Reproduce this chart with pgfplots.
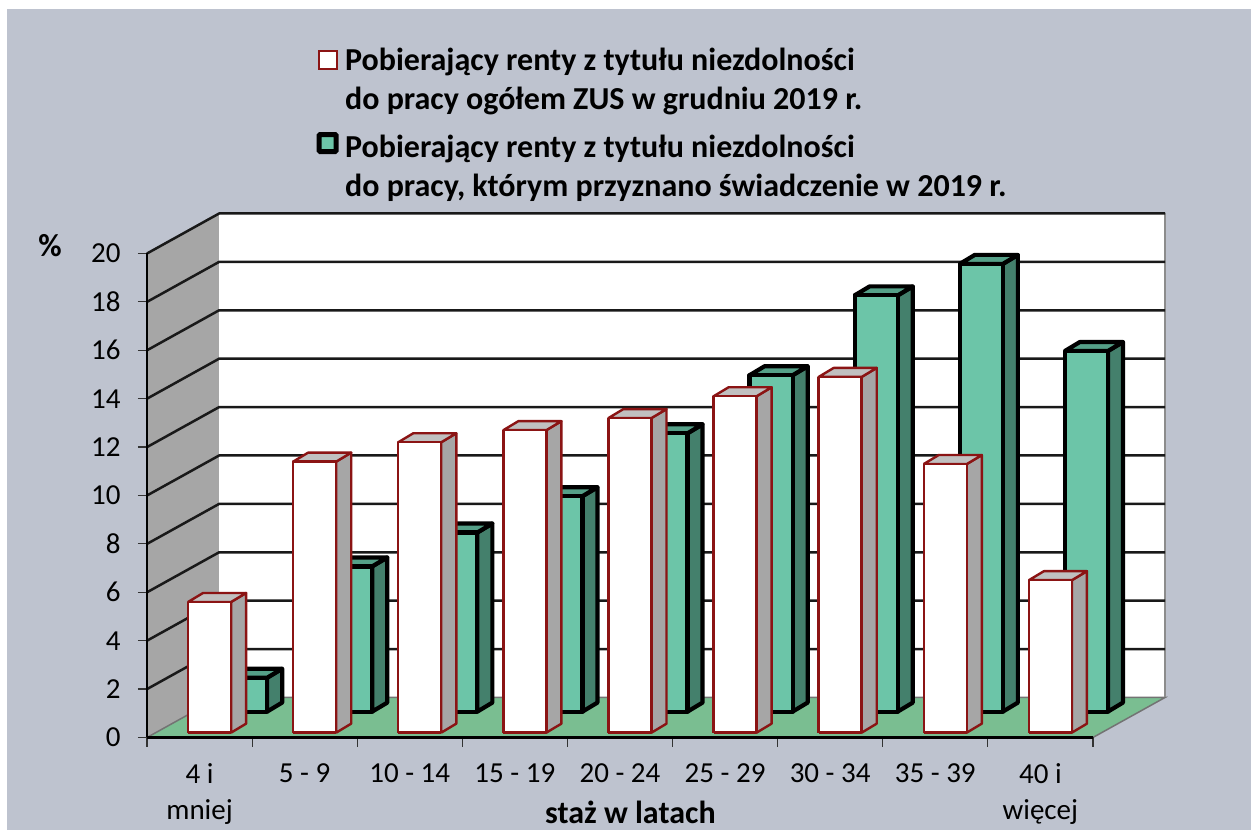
\documentclass[border=0pt]{standalone}
\usepackage{fontspec}
\setmainfont{Carlito}
\usepackage{pgfplots}
\pgfplotsset{compat=1.18}
\definecolor{bg}{HTML}{BEC3CF}
\definecolor{wallc}{HTML}{A6A6A6}
\definecolor{floorc}{HTML}{7ABE91}
\definecolor{gfront}{HTML}{6CC5A8}
\definecolor{gside}{HTML}{44806C}
\definecolor{gtop}{HTML}{55A088}
\definecolor{wtop}{HTML}{C0C0C0}
\definecolor{wside}{HTML}{A6A6A6}
\definecolor{redl}{HTML}{8B1414}
\newcommand{\solid}[8]{% xa, xb, y0, ytop, style, front, top, side
  \pgfmathsetmacro\xa{#1}\pgfmathsetmacro\xb{#2}\pgfmathsetmacro\ya{#3}\pgfmathsetmacro\yb{#4}%
  \pgfmathsetmacro\xc{\xb+0.143}\pgfmathsetmacro\xd{\xa+0.143}%
  \pgfmathsetmacro\yc{\ya+0.372}\pgfmathsetmacro\yd{\yb+0.372}%
  \addplot[forget plot,#5,fill=#8] coordinates {(\xb,\ya)(\xc,\yc)(\xc,\yd)(\xb,\yb)(\xb,\ya)};
  \addplot[forget plot,#5,fill=#7] coordinates {(\xa,\yb)(\xd,\yd)(\xc,\yd)(\xb,\yb)(\xa,\yb)};
  \addplot[forget plot,#5,fill=#6] coordinates {(\xa,\ya)(\xb,\ya)(\xb,\yb)(\xa,\yb)(\xa,\ya)};
}
\newcommand{\whitebar}[2]{\solid{#1+0.3905}{#1+0.80}{0.2}{#2+0.2}{draw=redl,line width=2.4pt,line join=round}{white}{wtop}{wside}}
\newcommand{\greenbar}[2]{\solid{#1+0.733}{#1+1.143}{1.07}{#2+1.07}{draw=black,line width=4.2pt,line join=round}{gfront}{gtop}{gside}}
\newcommand{\gridl}[1]{%
  \pgfmathsetmacro\yg{#1+1.653}%
  \addplot[forget plot,draw=black!90,line width=2.5pt] coordinates {(0,#1)(0.686,\yg)(9.686,\yg)};
}
\begin{document}
\begin{tikzpicture}[x=1pt,y=1pt]
\path[fill=white] (0,0) rectangle (1251,830);
\path[fill=bg] (7,0) rectangle (1251,821);
\begin{axis}[
  at={(147pt,92.5pt)},anchor=origin,
  x=105.1pt,y=24.2pt,
  xmin=0,xmax=9,ymin=0,ymax=20,
  clip=false,axis on top=true,
  axis x line*=bottom,axis y line*=left,
  axis line style={-,black,line width=2.5pt},
  tick align=outside,major tick length=9pt,
  tick style={black!80,line width=1.2pt},
  xtick={0,...,9},
  x tick label as interval=true,
  xticklabels={{4 i\\mniej},{5 - 9},{10 - 14},{15 - 19},{20 - 24},{25 - 29},{30 - 34},{35 - 39},{40 i\\więcej}},
  ytick={0,2,...,20},
  /pgf/number format/assume math mode=true,
  tick label style={font=\fontsize{29}{36}\selectfont},
  xticklabel style={align=center,anchor=north,yshift=-17pt,inner sep=0pt},
  yticklabel style={xshift=-14pt},
  xlabel={\textbf{staż w latach}},
  every axis x label/.style={at={(axis description cs:0.511,0)},anchor=center,yshift=-75pt,inner sep=0pt,font=\fontsize{32}{32}\selectfont},
  ylabel={\textbf{\%}},
  every axis y label/.style={at={(axis description cs:0,1)},anchor=center,xshift=-97pt,yshift=8pt,font=\fontsize{32}{36}\selectfont},
  legend style={at={(axis cs:1.612,20)},anchor=south west,yshift=53pt,draw=none,fill=none,
    font=\fontsize{32}{39.5}\selectfont\bfseries,row sep=19pt,
    cells={anchor=west,align=left},inner sep=0pt},
]
% side wall, back wall, floor
\addplot[forget plot,draw=none,fill=wallc] coordinates {(0,0)(0.686,1.653)(0.686,21.653)(0,20)(0,0)};
\addplot[forget plot,draw=none,fill=white] coordinates {(0.686,1.653)(9.686,1.653)(9.686,21.653)(0.686,21.653)(0.686,1.653)};
\addplot[forget plot,draw=black!55,line width=1.5pt,fill=floorc] coordinates {(0,0)(9,0)(9.686,1.653)(0.686,1.653)(0,0)};
\addplot[forget plot,draw=black!45,line width=2.5pt] coordinates {(9.686,1.653)(9.686,21.653)};
\gridl{2}\gridl{4}\gridl{6}\gridl{8}\gridl{10}\gridl{12}\gridl{14}\gridl{16}\gridl{18}\gridl{20}
% bars: category index, value in %
\greenbar{0}{1.4}\whitebar{0}{5.4}
\greenbar{1}{6.0}\whitebar{1}{11.2}
\greenbar{2}{7.4}\whitebar{2}{12.0}
\greenbar{3}{8.9}\whitebar{3}{12.5}
\greenbar{4}{11.5}\whitebar{4}{13.0}
\greenbar{5}{13.9}\whitebar{5}{13.9}
\greenbar{6}{17.2}\whitebar{6}{14.7}
\greenbar{7}{18.5}\whitebar{7}{11.1}
\greenbar{8}{14.9}\whitebar{8}{6.3}
\addlegendimage{legend image code/.code={\path[draw=none,fill=none] (-2pt,8pt) rectangle (24pt,34pt);\draw[draw=redl,line width=2.4pt,fill=white] (0pt,10.5pt) rectangle (18pt,28.5pt);}}
\addlegendentry{Pobierający renty z tytułu niezdolności\\do pracy ogółem ZUS w grudniu 2019 r.}
\addlegendimage{legend image code/.code={\path[draw=none,fill=none] (-2pt,8pt) rectangle (24pt,34pt);\draw[draw=black,line width=5pt,rounded corners=1pt,fill=gfront] (0pt,15pt) rectangle (17pt,32pt);}}
\addlegendentry{Pobierający renty z tytułu niezdolności\\do pracy, którym przyznano świadczenie w 2019 r.}
\end{axis}
\path (0,0) rectangle (1251,830);
\end{tikzpicture}
\end{document}
